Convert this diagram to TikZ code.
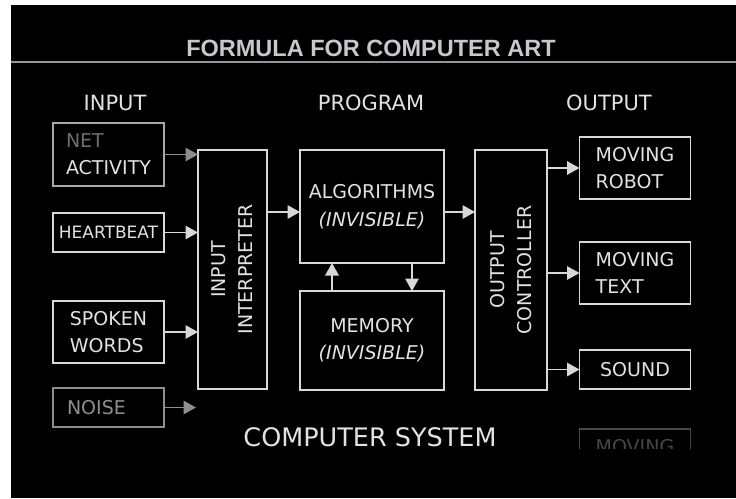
\documentclass[tikz,border=0pt]{standalone}
\usepackage{fontspec}
\setmainfont{DejaVu Sans}
\newfontfamily\titlefont{Liberation Sans}
\usetikzlibrary{arrows.meta,calc}
\definecolor{fg}{HTML}{E2E2E2}
\definecolor{boxline}{HTML}{D8D8D8}
\definecolor{dimtext}{HTML}{6E6E6E}
\definecolor{dimline}{HTML}{A8A8A8}
\definecolor{noisecol}{HTML}{8E8E8E}
\definecolor{ghost}{HTML}{474747}
\tikzset{
  boxn/.style={draw=boxline, line width=1.5pt, minimum width=111pt, inner sep=0pt, outer sep=0pt, text=fg, align=left, font=\fontsize{19}{27}\selectfont},
  bigbox/.style={draw=boxline, line width=1.5pt, inner sep=0pt, outer sep=0pt},
  arr/.style={draw=boxline, line width=1.5pt, -{Triangle[length=12.5pt,width=13.5pt]}},
  head/.style={text=fg, anchor=base, inner sep=0pt, font=\fontsize{21}{25}\selectfont},
  vtext/.style={rotate=90, text=fg, align=center, inner sep=0pt, font=\fontsize{19}{27}\selectfont},
}
\begin{document}
\begin{tikzpicture}[x=1pt,y=-1pt]
\useasboundingbox (0,0) rectangle (736,498);
\fill[white] (0,0) rectangle (736,498);
\fill[black] (11,5) rectangle (736,498);
% title
\node[anchor=base, inner sep=0pt, text={rgb,255:red,200;green,200;blue,204}, font=\titlefont\bfseries\fontsize{23.5}{28}\selectfont] (title) at (371,56) {FORMULA FOR COMPUTER ART};
\coordinate (ruleL) at (11,62);
\coordinate (ruleR) at (736,62);
\draw[line width=1.5pt, color={rgb,255:red,150;green,150;blue,150}] (ruleL) -- (ruleR);
% headings
\node[head] (hin) at (115,110) {INPUT};
\node[head] (hprog) at (371,110) {PROGRAM};
\node[head] (hout) at (609,110) {OUTPUT};
% input boxes
\node[boxn, draw=dimline, minimum height=63pt] (net) at (108.5,154.5) {\textcolor{dimtext}{NET}\\ACTIVITY};
\node[boxn, minimum height=39pt, font=\fontsize{17}{20}\selectfont] (heart) at (108.5,232.5) {HEARTBEAT};
\node[boxn, minimum height=62pt] (spoken) at (108.5,332) {SPOKEN\\WORDS};
\node[boxn, draw=noisecol, text=noisecol, minimum height=39pt, text width=83pt] (noise) at (108.5,407.5) {NOISE};
% interpreter
\node[bigbox, minimum width=69pt, minimum height=239pt] (interp) at (232.5,269.5) {};
\node[vtext] (interptext) at (interp.center) {INPUT\\INTERPRETER};
% program
\node[bigbox, minimum width=144pt, minimum height=113pt, text=fg, align=center, font=\fontsize{19}{28}\selectfont] (alg) at (372,206.5) {ALGORITHMS\\\textit{(INVISIBLE)}};
\node[bigbox, minimum width=144pt, minimum height=99pt, text=fg, align=center, font=\fontsize{19}{27}\selectfont] (mem) at (372,340.5) {MEMORY\\\textit{(INVISIBLE)}};
% controller
\node[bigbox, minimum width=72pt, minimum height=240pt] (ctrl) at (511,270) {};
\node[vtext] (ctrltext) at (ctrl.center) {OUTPUT\\CONTROLLER};
% outputs
\node[boxn, minimum height=62pt] (robot) at (635,168) {MOVING\\ROBOT};
\node[boxn, minimum height=62pt] (mtext) at (635,273) {MOVING\\TEXT};
\node[boxn, minimum height=39pt] (sound) at (635,369.5) {SOUND};
\begin{scope}
\clip (560,420) rectangle (710,448);
\node[boxn, draw=ghost, text=ghost, minimum height=62pt] (ghostbox) at (635,460) {};
\node[anchor=base west, inner sep=0pt, text=ghost, font=\fontsize{19}{27}\selectfont] (ghosttext) at (595.5,453) {MOVING};
\end{scope}
% caption
\node[anchor=base, inner sep=0pt, text=fg, font=\fontsize{25.5}{30}\selectfont] (sys) at (370,446) {COMPUTER SYSTEM};
% arrow rows
\coordinate (rowA) at (0,212);
\coordinate (colUp) at (332,0);
\coordinate (colDown) at (412,0);
% connectors
\draw[arr, draw=noisecol] (net.east) -- (net.east -| interp.west);
\draw[arr] (heart.east) -- (heart.east -| interp.west);
\draw[arr] (spoken.east) -- (spoken.east -| interp.west);
\draw[arr, draw=noisecol] (noise.east) -- ([xshift=-2pt]noise.east -| interp.west);
\draw[arr] (interp.east |- rowA) -- (alg.west |- rowA);
\draw[arr] (alg.east |- rowA) -- (ctrl.west |- rowA);
\draw[arr] (mem.north -| colUp) -- (alg.south -| colUp);
\draw[arr] (alg.south -| colDown) -- (mem.north -| colDown);
\draw[arr] (robot.west -| ctrl.east) -- (robot.west);
\draw[arr] (mtext.west -| ctrl.east) -- (mtext.west);
\draw[arr] (sound.west -| ctrl.east) -- (sound.west);
\end{tikzpicture}
\end{document}
